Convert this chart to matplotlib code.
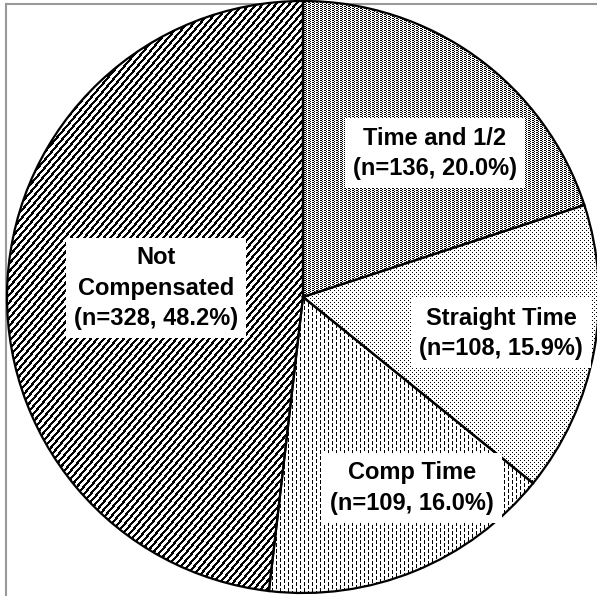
import numpy as np
import matplotlib
matplotlib.use('Agg')
import matplotlib.pyplot as plt
from matplotlib.patches import Wedge
from matplotlib.lines import Line2D

# ---- data ----
categories = ['Time and 1/2', 'Straight Time', 'Comp Time', 'Not\nCompensated']
counts = [136, 108, 109, 328]
percents = [20.0, 15.9, 16.0, 48.2]

# ---- layout / style ----
W, H = 597, 596
CX, CY, R = 303, 299, 296          # pie centre (px from left/bottom) and radius (px)
label_pos = [(0.446, 0.486), (0.669, -0.122), (0.368, -0.645), (-0.497, 0.030)]

plt.rcParams['font.family'] = ['Liberation Sans', 'DejaVu Sans']

fig = plt.figure(figsize=(W / 100, H / 100), dpi=100)
fig.patch.set_facecolor('white')
ax = fig.add_axes([0, 0, 1, 1])

xlim = (-CX / R, (W - CX) / R)
ylim = (-CY / R, (H - CY) / R)

wedges, _ = ax.pie(counts, startangle=90, counterclock=False, radius=1,
                   center=(0, 0),
                   wedgeprops=dict(facecolor='white', edgecolor='none',
                                   linewidth=0, zorder=1))

# ---- texture patterns (pixel tiles) ----
rr, cc = np.mgrid[0:H, 0:W]
# dense dark dither (Time and 1/2)
t1 = np.array([[1, 1, 0, 0],
               [0, 0, 1, 0]])
pat_time = t1[rr % 2, cc % 4]
# sparse dots (Straight Time)
t2 = np.zeros((4, 4), int)
t2[0, 0] = 1
t2[2, 2] = 1
pat_straight = t2[rr % 4, cc % 4]
# vertical dashes (Comp Time)
t3 = np.zeros((6, 8), int)
t3[0:4, 0] = 1
t3[3:6, 4] = 1
t3[0, 4] = 1
pat_comp = t3[rr % 6, cc % 8]
# diagonal lines (Not Compensated)
pat_not = (((cc + rr * 0.85) % 6.6) < 3.0).astype(int)

patterns = [pat_time, pat_straight, pat_comp, pat_not]

for w, pat in zip(wedges, patterns):
    im = ax.imshow(pat, cmap='gray_r', vmin=0, vmax=1, interpolation='nearest',
                   extent=(xlim[0], xlim[1], ylim[0], ylim[1]),
                   origin='upper', aspect='auto', zorder=2)
    im.set_clip_path(w)
    ax.add_patch(Wedge((0, 0), 1, w.theta1, w.theta2, fill=False,
                       edgecolor='black', linewidth=1.6, zorder=3))

for cat, n, p, (lx, ly) in zip(categories, counts, percents, label_pos):
    ax.text(lx, ly, f'{cat}\n(n={n}, {p:.1f}%)', ha='center', va='center',
            multialignment='center', fontsize=17, fontweight='bold',
            linespacing=1.4, zorder=4,
            bbox=dict(boxstyle='square,pad=0.35', facecolor='white',
                      edgecolor='none'))

ax.set_xlim(xlim)
ax.set_ylim(ylim)
ax.set_aspect('auto')
ax.axis('off')

# grey frame (left and top edges visible)
fig.add_artist(Line2D([5.5 / W, 5.5 / W], [0, (H - 3.5) / H],
                      transform=fig.transFigure, color='#999999', lw=1.5, zorder=-1))
fig.add_artist(Line2D([5.5 / W, 1], [(H - 3.5) / H, (H - 3.5) / H],
                      transform=fig.transFigure, color='#999999', lw=1.5, zorder=-1))

fig.savefig('out.png', dpi=100, facecolor='white')
